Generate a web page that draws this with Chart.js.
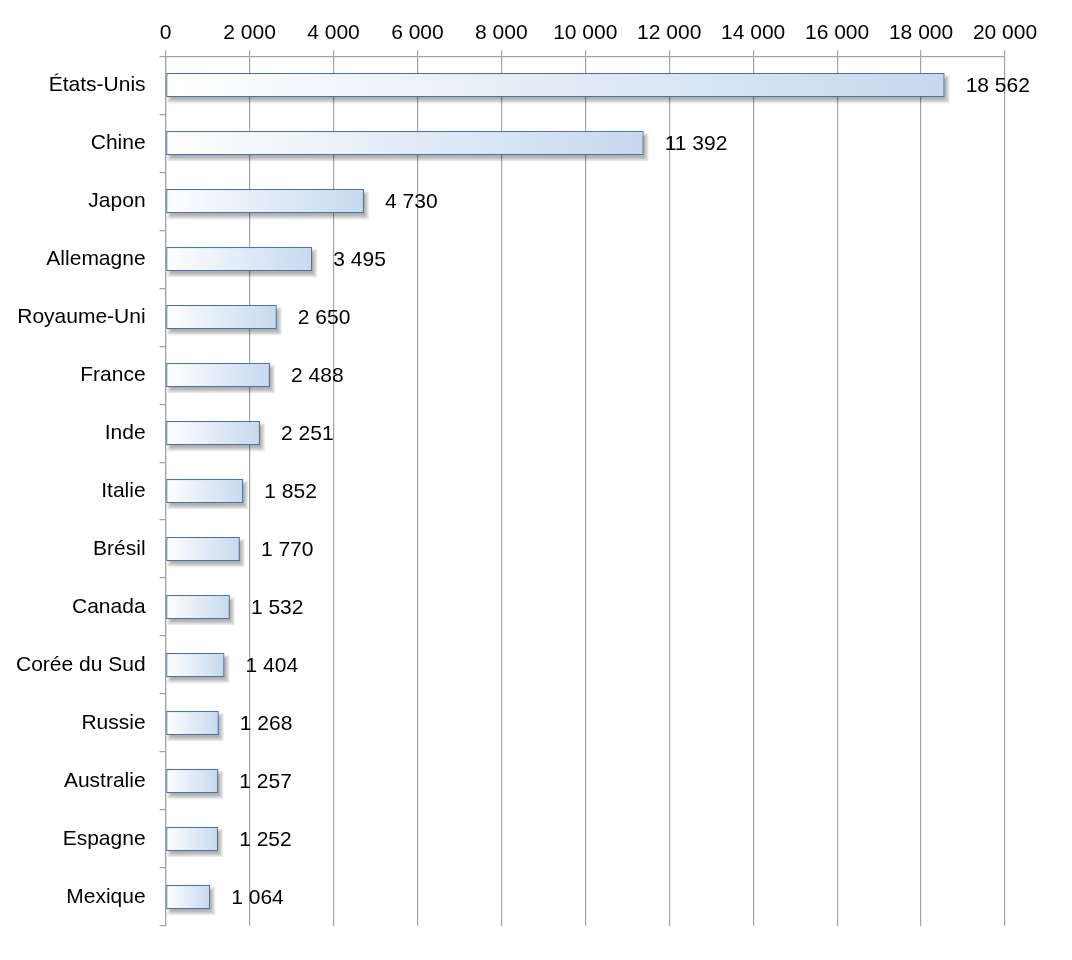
<!DOCTYPE html>
<html>
<head>
<meta charset="utf-8">
<script src="https://cdn.jsdelivr.net/npm/chart.js@4/dist/chart.umd.min.js"></script>
<style>
  body { margin: 0; background: #fff; }
  #wrap { width: 1072px; height: 960px; }
</style>
</head>
<body>
<div id="wrap"><canvas id="pib"></canvas></div>
<script>
// PIB par pays (milliards de dollars)
const pays = ['États-Unis', 'Chine', 'Japon', 'Allemagne', 'Royaume-Uni', 'France', 'Inde',
  'Italie', 'Brésil', 'Canada', 'Corée du Sud', 'Russie', 'Australie', 'Espagne', 'Mexique'];
const valeurs = [18562, 11392, 4730, 3495, 2650, 2488, 2251, 1852, 1770, 1532, 1404, 1268, 1257, 1252, 1064];
const axeMin = 0;
const axeMax = 20000;
const axePas = 2000;

const police = 'Helvetica, "Liberation Sans", Arial, sans-serif';

// 18562 -> "18 562"
function fmt(v) {
  return String(v).replace(/\B(?=(\d{3})+(?!\d))/g, ' ');
}

// soft shadow under bars, drawn as stacked translucent rects
const ombre = {
  id: 'ombre',
  beforeDatasetsDraw(chart) {
    const c = chart.ctx;
    const meta = chart.getDatasetMeta(0);
    c.save();
    c.fillStyle = 'rgba(0,0,0,0.07)';
    meta.data.forEach(bar => {
      const left = Math.min(bar.base, bar.x);
      const w = Math.abs(bar.x - bar.base);
      const top = bar.y - bar.height / 2;
      for (let s = 0; s <= 4; s++) {
        c.fillRect(left + 3 - s + 2, top + 4 - s + 2, w - 4 + 2 * s, bar.height - 4 + 2 * s);
      }
    });
    c.restore();
  }
};

// value labels right of each bar
const etiquettes = {
  id: 'etiquettes',
  afterDatasetsDraw(chart) {
    const c = chart.ctx;
    const meta = chart.getDatasetMeta(0);
    c.save();
    c.font = '21px ' + police;
    c.fillStyle = '#000';
    c.textAlign = 'left';
    c.textBaseline = 'middle';
    meta.data.forEach((bar, i) => {
      c.fillText(fmt(valeurs[i]), bar.x + 21, bar.y + 1);
    });
    c.restore();
  }
};

new Chart(document.getElementById('pib'), {
  type: 'bar',
  data: {
    labels: pays,
    datasets: [{
      data: valeurs,
      backgroundColor: function(ctx) {
        const chart = ctx.chart;
        if (!chart.chartArea || !chart.scales.x) return '#c8dbf0';
        const x = chart.scales.x;
        const x0 = x.getPixelForValue(0);
        const x1 = x.getPixelForValue(ctx.raw);
        const g = chart.ctx.createLinearGradient(x0, 0, x1, 0);
        g.addColorStop(0, '#ffffff');
        g.addColorStop(1, '#c6d9ef');
        return g;
      },
      borderColor: '#4d72a6',
      borderWidth: 1.3,
      borderSkipped: false,
      barPercentage: 0.84,
      categoryPercentage: 0.5
    }]
  },
  options: {
    indexAxis: 'y',
    responsive: true,
    maintainAspectRatio: false,
    animation: false,
    layout: { padding: { left: 2, right: 67, top: 17, bottom: 34 } },
    plugins: {
      legend: { display: false },
      tooltip: { enabled: false }
    },
    scales: {
      x: {
        position: 'top',
        min: axeMin,
        max: axeMax,
        ticks: {
          stepSize: axePas,
          color: '#000',
          padding: 4,
          font: { family: police, size: 21 },
          callback: v => fmt(v)
        },
        grid: { color: '#a3a3a3', lineWidth: 1.2, tickLength: 6 },
        border: { color: '#a3a3a3', width: 1.2 }
      },
      y: {
        ticks: {
          color: '#000',
          padding: 14,
          font: { family: police, size: 21 }
        },
        grid: { drawOnChartArea: false, offset: true, color: '#a3a3a3', lineWidth: 1.2, tickLength: 6 },
        border: { color: '#a3a3a3', width: 1.2 }
      }
    }
  },
  plugins: [ombre, etiquettes]
});
</script>
</body>
</html>
